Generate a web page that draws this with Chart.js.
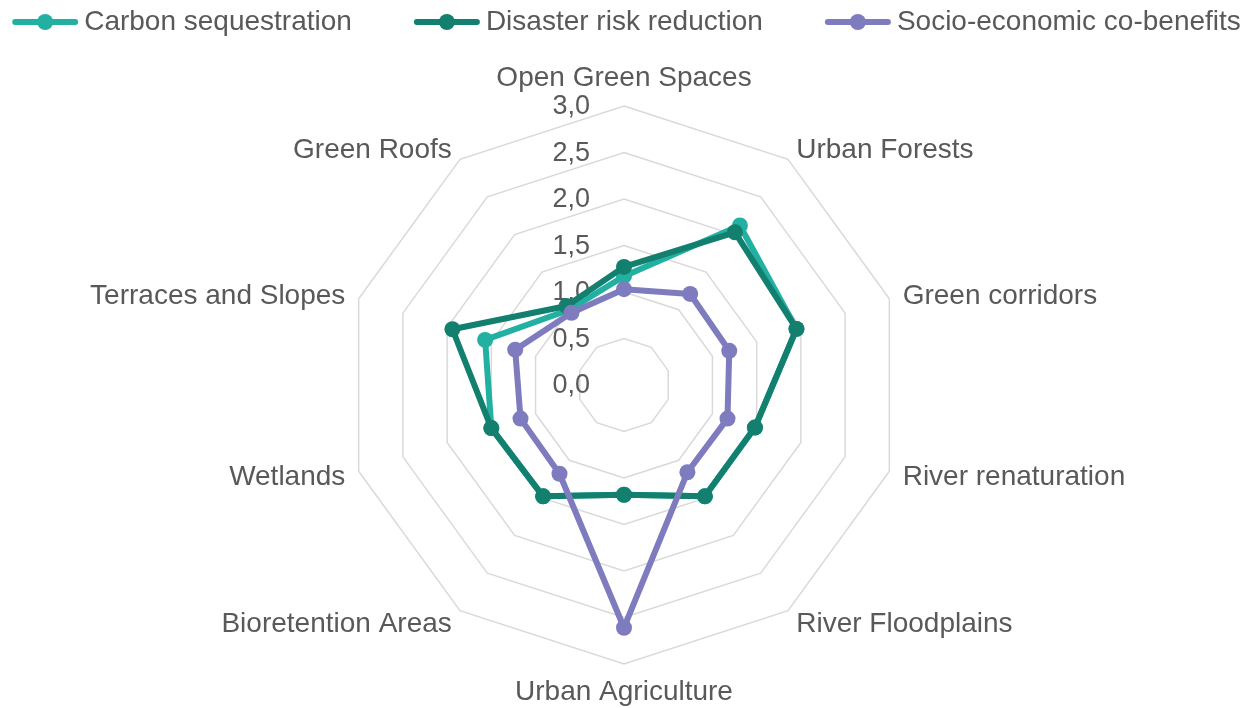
<!DOCTYPE html>
<html><head><meta charset="utf-8">
<script src="https://cdn.jsdelivr.net/npm/chart.js@4.4.1/dist/chart.umd.min.js"></script>
<style>html,body{margin:0;padding:0;background:#fff}#wrap{width:1253px;height:708px;position:relative}</style>
</head><body><div id="wrap"><canvas id="c"></canvas></div>
<script>
const categories = ['Open Green Spaces','Urban Forests','Green corridors','River renaturation','River Floodplains','Urban Agriculture','Bioretention Areas','Wetlands','Terraces and Slopes','Green Roofs'];
const carbonSequestration = [1.17, 2.12, 1.95, 1.48, 1.48, 1.18, 1.48, 1.50, 1.57, 1.00];
const disasterRiskReduction = [1.27, 2.03, 1.95, 1.48, 1.48, 1.18, 1.48, 1.50, 1.94, 1.05];
const socioEconomicCoBenefits = [1.03, 1.21, 1.19, 1.17, 1.16, 2.61, 1.18, 1.17, 1.23, 0.96];
const tickLabels = ['0,0','0,5','1,0','1,5','2,0','2,5','3,0'];
const seriesNames = ['Carbon sequestration','Disaster risk reduction','Socio-economic co-benefits'];
const seriesColors = ['#22b0a3','#137f6f','#7e7bbf'];

const FONT = "'Liberation Sans', Arial, sans-serif";
const TEXT = '#595959';

const legendPlugin = {
  id: 'lineLegend',
  afterDraw(chart) {
    const ctx = chart.ctx;
    ctx.save();
    ctx.font = '28px ' + FONT;
    const markerW = 66, gap = 6, itemGap = 62;
    const items = chart.data.datasets.map(ds => ({label: ds.label, color: ds.borderColor, w: markerW + gap + ctx.measureText(ds.label).width}));
    const total = items.reduce((s, it) => s + it.w, 0) + itemGap * (items.length - 1);
    let x = (chart.width - total) / 2;
    const y = 22;
    items.forEach(it => {
      ctx.strokeStyle = it.color; ctx.lineWidth = 6; ctx.lineCap = 'round';
      ctx.beginPath(); ctx.moveTo(x + 3, y); ctx.lineTo(x + markerW - 3, y); ctx.stroke();
      ctx.fillStyle = it.color; ctx.beginPath(); ctx.arc(x + markerW / 2, y, 8, 0, Math.PI * 2); ctx.fill();
      ctx.fillStyle = TEXT; ctx.textAlign = 'left'; ctx.textBaseline = 'middle';
      ctx.fillText(it.label, x + markerW + gap, y);
      x += it.w + itemGap;
    });
    ctx.restore();
  }
};

const tickPlugin = {
  id: 'tickLabelsLeft',
  beforeDatasetsDraw(chart) {
    const s = chart.scales.r, ctx = chart.ctx;
    ctx.save();
    ctx.font = '27px ' + FONT; ctx.fillStyle = TEXT;
    ctx.textAlign = 'right'; ctx.textBaseline = 'middle';
    s.ticks.forEach(t => {
      const d = s.getDistanceFromCenterForValue(t.value);
      ctx.fillText(t.label, s.xCenter - 34, s.yCenter - d + 1);
    });
    ctx.restore();
  }
};

const mk = (i, data) => ({
  label: seriesNames[i], data: data,
  borderColor: seriesColors[i], backgroundColor: seriesColors[i],
  pointBackgroundColor: seriesColors[i], pointBorderColor: seriesColors[i],
  borderWidth: 6, pointRadius: 8, pointBorderWidth: 0, fill: false, tension: 0,
  order: 3 - i
});

new Chart(document.getElementById('c'), {
  type: 'radar',
  data: {
    labels: categories,
    datasets: [mk(0, carbonSequestration), mk(1, disasterRiskReduction), mk(2, socioEconomicCoBenefits)]
  },
  options: {
    responsive: true, maintainAspectRatio: false, animation: false,
    layout: { padding: { top: 64, bottom: 1, left: 0, right: 4 } },
    plugins: { legend: { display: false }, tooltip: { enabled: false } },
    elements: { line: { borderJoinStyle: 'round' } },
    scales: {
      r: {
        min: 0, max: 3, beginAtZero: true,
        ticks: { stepSize: 0.5, display: false, callback: (v, i) => tickLabels[i] },
        grid: { circular: false, color: '#d9d9d9', lineWidth: 1.5 },
        angleLines: { display: false },
        pointLabels: { font: { family: FONT, size: 28, lineHeight: 1 }, color: TEXT, padding: 14 },
        afterFit(scale) {
          const items = scale._pointLabelItems; if (!items) return;
          const h = 28, n = items.length;
          items.forEach((it, i) => {
            const ang = Math.round(i * 360 / n) % 360;
            if (ang !== 0 && ang !== 180) {
              const p = scale.getPointPosition(i, scale.drawingArea + 14);
              it.y = p.y - h / 2 + 2; it.top = it.y; it.bottom = it.y + h;
            }
          });
        }
      }
    }
  },
  plugins: [tickPlugin, legendPlugin]
});
</script></body></html>
